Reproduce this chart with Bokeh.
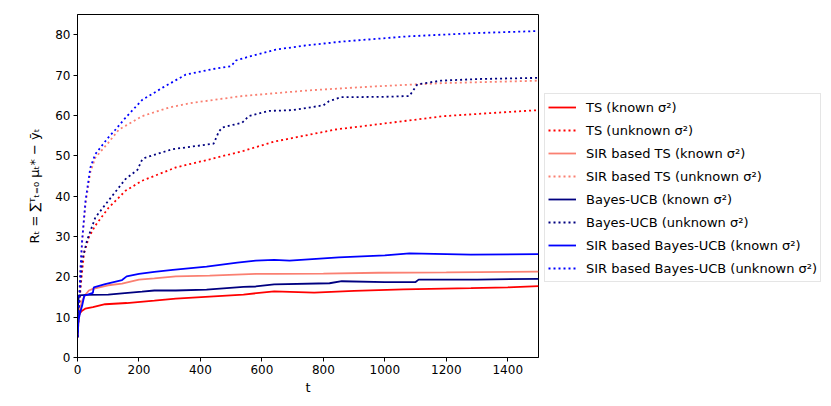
from bokeh.plotting import figure
from bokeh.layouts import row
from bokeh.models import Range1d, Legend, LegendItem, FixedTicker
from bokeh.embed import file_html
from bokeh.resources import INLINE

# ---- data ----
ts_known_t = [0, 2, 5, 10, 15, 25, 50, 90, 160, 250, 320, 430, 540, 640, 770, 900, 1060, 1280, 1400, 1500]
ts_known_y = [5.0, 9.0, 10.5, 11.2, 11.6, 12.1, 12.5, 13.2, 13.5, 14.1, 14.6, 15.1, 15.6, 16.4, 16.1, 16.5, 16.9, 17.2, 17.4, 17.7]

ts_unknown_t = [0, 5, 10, 21, 37, 58, 100, 156, 210, 320, 430, 540, 640, 840, 1000, 1190, 1350, 1500]
ts_unknown_y = [5.0, 11.0, 17.4, 25.8, 29.8, 32.7, 37.0, 41.3, 43.8, 47.1, 49.1, 51.2, 53.5, 56.5, 58.0, 59.8, 60.6, 61.3]

sir_ts_known_t = [0, 3, 8, 15, 25, 37, 50, 100, 145, 200, 250, 320, 430, 580, 650, 800, 980, 1200, 1500]
sir_ts_known_y = [5.0, 9.0, 12.0, 14.0, 15.5, 16.6, 17.0, 17.9, 18.3, 19.3, 19.6, 20.1, 20.3, 20.7, 20.7, 20.8, 21.0, 21.1, 21.3]

sir_ts_unknown_t = [0, 5, 10, 15, 26, 42, 58, 100, 135, 156, 210, 300, 373, 536, 753, 970, 1190, 1500]
sir_ts_unknown_y = [5.0, 14.0, 22.0, 28.5, 38.0, 46.0, 49.5, 53.2, 56.5, 57.4, 59.8, 62.0, 63.1, 64.8, 66.2, 67.2, 68.0, 68.6]

ucb_known_t = [0, 2, 4, 30, 100, 145, 210, 250, 320, 420, 540, 580, 640, 820, 860, 1000, 1100, 1110, 1300, 1500]
ucb_known_y = [5.0, 13.0, 15.4, 15.5, 15.6, 15.9, 16.3, 16.6, 16.6, 16.8, 17.5, 17.6, 18.1, 18.4, 18.9, 18.7, 18.7, 19.3, 19.3, 19.5]

ucb_unknown_t = [0, 5, 15, 31, 58, 100, 156, 195, 210, 220, 308, 443, 460, 471, 536, 557, 622, 700, 800, 818, 857, 1000, 1080, 1106, 1182, 1300, 1500]
ucb_unknown_y = [5.0, 13.0, 24.0, 29.0, 34.7, 38.8, 44.2, 46.5, 49.0, 49.5, 51.6, 53.0, 56.0, 57.0, 58.2, 59.8, 61.1, 61.3, 62.5, 63.5, 64.5, 64.6, 64.8, 67.7, 68.6, 69.0, 69.3]

sir_ucb_known_t = [0, 3, 8, 15, 22, 50, 53, 90, 145, 160, 200, 250, 310, 420, 520, 580, 640, 690, 850, 1000, 1080, 1280, 1500]
sir_ucb_known_y = [5.0, 9.0, 11.0, 12.8, 15.3, 16.0, 17.4, 18.2, 19.2, 20.1, 20.7, 21.2, 21.7, 22.5, 23.5, 24.0, 24.2, 24.0, 24.8, 25.3, 25.8, 25.5, 25.6]

sir_ucb_unknown_t = [0, 5, 10, 15, 26, 42, 58, 100, 124, 156, 210, 280, 352, 449, 500, 515, 560, 645, 750, 862, 1078, 1296, 1500]
sir_ucb_unknown_y = [5.0, 14.0, 22.4, 29.0, 38.8, 47.1, 50.4, 54.5, 56.5, 59.4, 63.8, 67.0, 70.1, 71.6, 72.2, 73.6, 74.6, 76.3, 77.4, 78.3, 79.6, 80.4, 80.9]

labels = [
    "TS (known σ²)", "TS (unknown σ²)",
    "SIR based TS (known σ²)", "SIR based TS (unknown σ²)",
    "Bayes-UCB (known σ²)", "Bayes-UCB (unknown σ²)",
    "SIR based Bayes-UCB (known σ²)", "SIR based Bayes-UCB (unknown σ²)",
]
x_ticks = [0, 200, 400, 600, 800, 1000, 1200, 1400]
y_ticks = [0, 10, 20, 30, 40, 50, 60, 70, 80]

series = [
    (ts_known_t, ts_known_y, "#ff0000", "solid"),
    (ts_unknown_t, ts_unknown_y, "#ff0000", "dotted"),
    (sir_ts_known_t, sir_ts_known_y, "#fa8072", "solid"),
    (sir_ts_unknown_t, sir_ts_unknown_y, "#fa8072", "dotted"),
    (ucb_known_t, ucb_known_y, "#000080", "solid"),
    (ucb_unknown_t, ucb_unknown_y, "#000080", "dotted"),
    (sir_ucb_known_t, sir_ucb_known_y, "#0000ff", "solid"),
    (sir_ucb_unknown_t, sir_ucb_unknown_y, "#0000ff", "dotted"),
]

FONT = "DejaVu Sans"
LW = 1.8
DOT = "2 3"

# ---- main plot ----
p = figure(width=541, height=406, output_backend="svg", toolbar_location=None,
           x_range=Range1d(0, 1500), y_range=Range1d(0, 85),
           min_border_left=77, min_border_right=3, min_border_top=14, min_border_bottom=49)
p.background_fill_color = "white"
p.border_fill_color = "white"
p.grid.visible = False
p.outline_line_color = "black"
p.outline_line_width = 1
p.outline_line_alpha = 1

for tx, ty, col, style in series:
    if style == "solid":
        p.line(tx, ty, line_color=col, line_width=LW)
    else:
        p.line(tx, ty, line_color=col, line_width=LW, line_dash=DOT)

for ax in (p.xaxis[0], p.yaxis[0]):
    ax.axis_line_color = "black"
    ax.major_tick_line_color = "black"
    ax.major_tick_out = 4
    ax.major_tick_in = 0
    ax.minor_tick_line_color = None
    ax.major_label_text_font = FONT
    ax.major_label_text_font_size = "12px"
    ax.major_label_text_color = "black"
    ax.axis_label_text_font = FONT
    ax.axis_label_text_font_size = "13px"
    ax.axis_label_text_font_style = "normal"
    ax.axis_label_text_color = "black"
    ax.major_label_standoff = 3

p.xaxis[0].ticker = FixedTicker(ticks=x_ticks)
p.yaxis[0].ticker = FixedTicker(ticks=y_ticks)
p.xaxis[0].axis_label = "t"
p.xaxis[0].axis_label_standoff = 3
p.yaxis[0].axis_label = "Rₜ = ∑ᵀₜ₌₀ μₜ* − ȳₜ"
p.yaxis[0].axis_label_standoff = 10

# ---- legend panel: a figure whose view lies away from the data, holding the keys ----
q = figure(width=290, height=406, output_backend="svg", toolbar_location=None,
           x_range=Range1d(-1000, -999), y_range=Range1d(-1000, -999),
           x_axis_location=None, y_axis_location=None,
           min_border_left=0, min_border_right=0, min_border_top=14, min_border_bottom=49)
q.grid.visible = False
q.outline_line_color = None
q.background_fill_color = "white"
q.border_fill_color = "white"

items = []
for (tx, ty, col, style), lab in zip(series, labels):
    if style == "solid":
        r = q.line(tx, ty, line_color=col, line_width=LW)
    else:
        r = q.line(tx, ty, line_color=col, line_width=LW, line_dash=DOT)
    items.append(LegendItem(label=lab, renderers=[r]))

legend = Legend(items=items, location=(3, 75), orientation="vertical")
legend.label_text_font = FONT
legend.label_text_font_size = "13px"
legend.label_text_color = "black"
legend.glyph_width = 28
legend.glyph_height = 20
legend.label_height = 20
legend.spacing = 3
legend.padding = 3
legend.margin = 0
legend.label_standoff = 10
legend.border_line_color = "#cccccc"
legend.border_line_width = 1
legend.background_fill_color = "white"
legend.background_fill_alpha = 1.0
q.add_layout(legend, "center")

layout = row(p, q)
open("out.html", "w").write(file_html(layout, INLINE))
